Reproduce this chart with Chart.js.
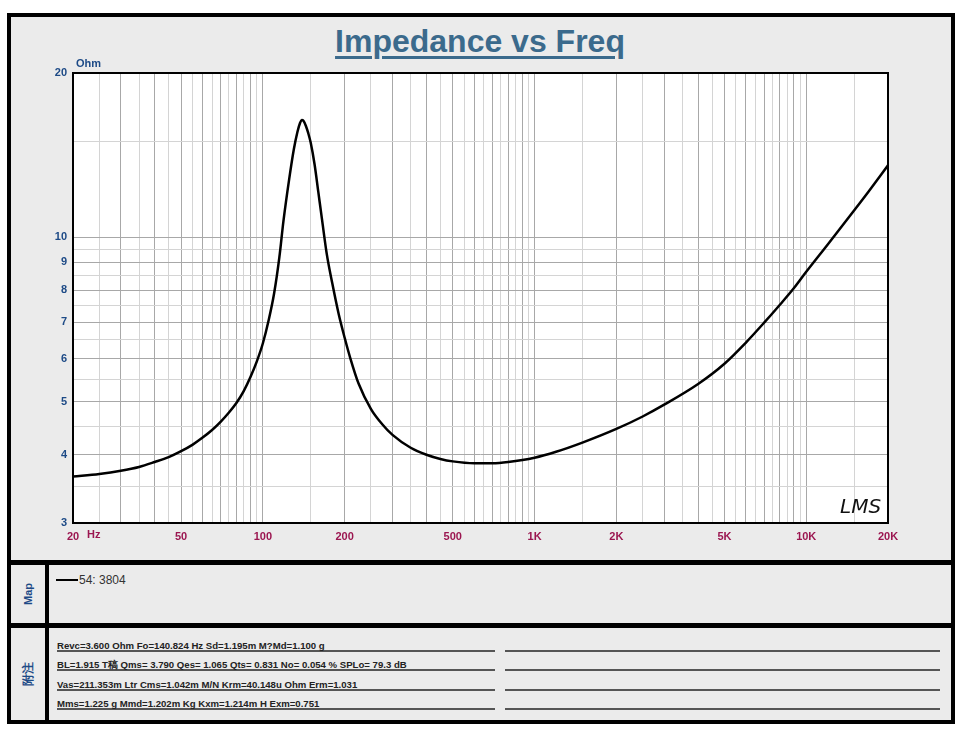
<!DOCTYPE html>
<html>
<head>
<meta charset="utf-8">
<script src="https://cdn.jsdelivr.net/npm/chart.js@4/dist/chart.umd.min.js"></script>
<style>
    body { margin: 0; background: #fff; font-family: "Liberation Sans", Arial, sans-serif; }
    #page { position: relative; width: 960px; height: 738px; overflow: hidden; }
    .frame { position: absolute; left: 7px; top: 13px; width: 940px; height: 703px; border: 4px solid #000; background: #ebebeb; }
    .bar { position: absolute; background: #000; }
    .side { position: absolute; left: 11px; width: 34px; color: #1d4a86; font-weight: bold; font-size: 11px; }
    .side span { position: absolute; left: 50%; top: 50%; transform: translate(-50%, -50%) rotate(-90deg); white-space: nowrap; }
    #title { position: absolute; left: 0; width: 960px; top: 23px; text-align: center; font-size: 32px; font-weight: bold; color: #3b6a8c; text-decoration: underline; text-decoration-thickness: 3px; text-underline-offset: 4px; }
    #chart { position: absolute; left: 0; top: 0; }
    .legend { position: absolute; left: 56px; top: 573px; font-size: 12px; color: #333; line-height: 14px; }
    .legend i { display: inline-block; width: 22px; height: 2px; background: #000; vertical-align: middle; margin-right: 1px; position: relative; top: -1px; }
    .note { position: absolute; left: 57px; width: 438px; height: 16px; border-bottom: 2px solid #555; font-size: 9.6px; font-weight: bold; color: #222; line-height: 23px; white-space: nowrap; }
    .note2 { position: absolute; left: 505px; width: 435px; height: 16px; border-bottom: 2px solid #555; }
</style>
</head>
<body>
<div id="page">
    <div class="frame"></div>
    <div class="bar" style="left:7px; top:560px; width:948px; height:5px;"></div>
    <div class="bar" style="left:7px; top:623px; width:948px; height:5px;"></div>
    <div class="bar" style="left:45px; top:560px; width:4px; height:164px;"></div>
    <div class="side" style="top:565px; height:58px;"><span>Map</span></div>
    <div class="side" style="top:628px; height:92px; font-size:12px;"><span>附注</span></div>
    <div class="legend"><i></i>54: 3804</div>
    <div id="notes"></div>
    <div id="title">Impedance vs Freq</div>
    <canvas id="chart" width="960" height="560"></canvas>
</div>
<script>
// impedance curve
var freqHz = [20, 25, 30, 35, 40, 45, 50, 55, 60, 65, 70, 75, 80, 85, 90, 95, 100, 105, 110, 115, 119, 125, 130, 134, 137, 139, 141, 144, 147, 150, 155, 160, 165, 172, 180, 190, 200, 210, 225, 250, 275, 300, 350, 400, 450, 500, 600, 700, 800, 1000, 1200, 1500, 2000, 2500, 3000, 4000, 5000, 6000, 7000, 8000, 9000, 10000, 12000, 15000, 17000, 20000];
var impOhm = [3.65, 3.69, 3.74, 3.80, 3.88, 3.96, 4.06, 4.17, 4.30, 4.44, 4.60, 4.78, 4.98, 5.23, 5.55, 5.93, 6.40, 7.05, 7.90, 9.20, 10.70, 12.80, 14.50, 15.60, 16.20, 16.40, 16.35, 16.00, 15.50, 14.90, 13.60, 12.10, 10.80, 9.30, 8.25, 7.25, 6.55, 6.00, 5.40, 4.85, 4.55, 4.35, 4.12, 4.00, 3.93, 3.89, 3.86, 3.86, 3.88, 3.95, 4.05, 4.21, 4.46, 4.70, 4.94, 5.39, 5.87, 6.42, 6.98, 7.53, 8.07, 8.65, 9.71, 11.20, 12.15, 13.55];

var xTickValues = [20, 50, 100, 200, 500, 1000, 2000, 5000, 10000, 20000];
var xTickLabels = ["20", "50", "100", "200", "500", "1K", "2K", "5K", "10K", "20K"];
var yTickValues = [3, 4, 5, 6, 7, 8, 9, 10, 20];
var yTickLabels = ["3", "4", "5", "6", "7", "8", "9", "10", "20"];

var notesText = [
    "Revc=3.600 Ohm  Fo=140.824 Hz  Sd=1.195m M?Md=1.100 g",
    "BL=1.915 T稿  Qms= 3.790  Qes= 1.065  Qts= 0.831  No= 0.054 %  SPLo= 79.3 dB",
    "Vas=211.353m Ltr  Cms=1.042m M/N  Krm=40.148u Ohm  Erm=1.031",
    "Mms=1.225 g  Mmd=1.202m Kg  Kxm=1.214m H  Exm=0.751"
];

var notesHtml = "";
notesText.forEach(function(t, i) {
    var top = 634 + i * 19.3;
    notesHtml += '<div class="note" style="top:' + top + 'px">' + t + '</div>';
    notesHtml += '<div class="note2" style="top:' + top + 'px"></div>';
});
document.getElementById("notes").innerHTML = notesHtml;

// grid every half step of each decade
function gridValues(min, max) {
    var out = [];
    for (var d = 1; d <= max; d *= 10) {
        for (var m = 1; m < 10; m += 0.5) {
            var v = +(m * d).toFixed(3);
            if (v >= min && v <= max && out.indexOf(v) < 0) out.push(v);
        }
    }
    if (out.indexOf(max) < 0) out.push(max);
    return out;
}

function isMajor(v) {
    var d = Math.pow(10, Math.floor(Math.log10(v) + 1e-9));
    return Math.abs(v / d - Math.round(v / d)) < 1e-6;
}

var xGrid = gridValues(20, 20000);
var yGrid = gridValues(3, 20);

var plotDecor = {
    id: "plotDecor",
    beforeDraw: function(chart) {
        var a = chart.chartArea, ctx = chart.ctx;
        ctx.save();
        ctx.fillStyle = "#fff";
        ctx.fillRect(a.left, a.top, a.right - a.left, a.bottom - a.top);
        ctx.restore();
    },
    afterDraw: function(chart) {
        var a = chart.chartArea, ctx = chart.ctx;
        ctx.save();
        ctx.strokeStyle = "#000";
        ctx.lineWidth = 2;
        ctx.strokeRect(a.left, a.top, a.right - a.left, a.bottom - a.top);
        ctx.font = "bold 11px 'Liberation Sans', Arial";
        ctx.fillStyle = "#1d4a86";
        ctx.textBaseline = "middle";
        ctx.fillText("Ohm", a.left + 3, a.top - 9);
        ctx.fillStyle = "#9b1650";
        ctx.fillText("Hz", a.left + 14, a.bottom + 12);
        ctx.fillStyle = "#111";
        ctx.font = "italic 20px 'DejaVu Sans'";
        ctx.fillText("LMS", a.right - 48, a.bottom - 15);
        ctx.restore();
    }
};

new Chart(document.getElementById("chart"), {
    type: "line",
    data: {
        datasets: [{
            label: "54: 3804",
            data: freqHz.map(function(f, i) { return { x: f, y: impOhm[i] }; }),
            borderColor: "#000",
            borderWidth: 2.5,
            pointRadius: 0,
            cubicInterpolationMode: "monotone",
            fill: false
        }]
    },
    options: {
        responsive: false,
        animation: false,
        devicePixelRatio: 1,
        layout: { padding: { left: 10, top: 73, right: 72, bottom: 7 } },
        plugins: { legend: { display: false }, tooltip: { enabled: false } },
        scales: {
            x: {
                type: "logarithmic",
                min: 20,
                max: 20000,
                afterBuildTicks: function(s) { s.ticks = xGrid.map(function(v) { return { value: v }; }); },
                afterFit: function(s) { s.height = 30; },
                border: { display: false },
                grid: {
                    drawTicks: false,
                    color: function(c) { return c.tick && isMajor(c.tick.value) ? "#a8a8a8" : "#d4d4d4"; }
                },
                ticks: {
                    autoSkip: false,
                    maxRotation: 0,
                    padding: 7,
                    color: "#9b1650",
                    font: { family: "'Liberation Sans', Arial", size: 11, weight: "bold" },
                    callback: function(v) {
                        var i = xTickValues.indexOf(+v);
                        return i < 0 ? "" : xTickLabels[i];
                    }
                }
            },
            y: {
                type: "logarithmic",
                min: 3,
                max: 20,
                afterBuildTicks: function(s) { s.ticks = yGrid.map(function(v) { return { value: v }; }); },
                afterFit: function(s) { s.width = 63; },
                border: { display: false },
                grid: {
                    drawTicks: false,
                    color: function(c) { return c.tick && isMajor(c.tick.value) ? "#a8a8a8" : "#d4d4d4"; }
                },
                ticks: {
                    autoSkip: false,
                    padding: 6,
                    color: "#1d4a86",
                    font: { family: "'Liberation Sans', Arial", size: 11, weight: "bold" },
                    callback: function(v) {
                        var i = yTickValues.indexOf(+v);
                        return i < 0 ? "" : yTickLabels[i];
                    }
                }
            }
        }
    },
    plugins: [plotDecor]
});
</script>
</body>
</html>
